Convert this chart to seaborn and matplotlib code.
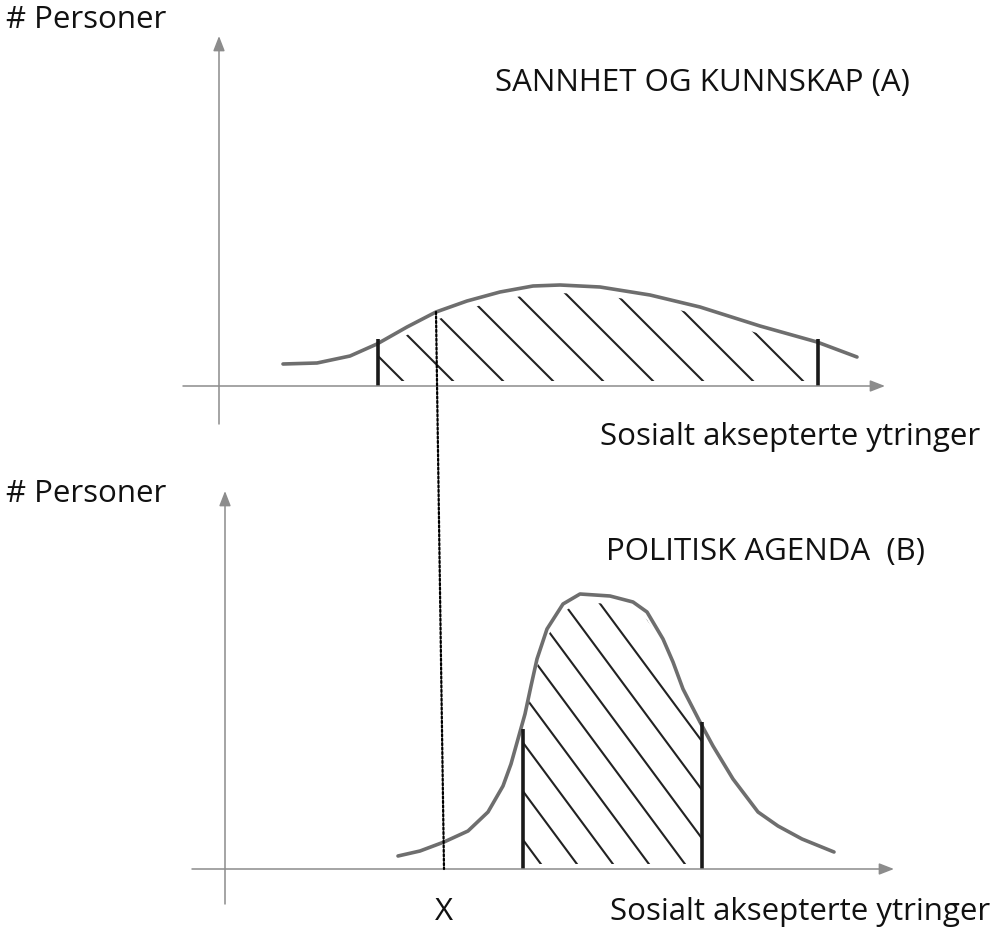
import numpy as np
import matplotlib
matplotlib.use("Agg")
import matplotlib.pyplot as plt
from matplotlib.patches import ConnectionPatch
import seaborn as sns

# --- data (pixel units, relative to each panel's axis origin) ---

# panel A: "Sannhet og kunnskap" - wide, flat curve
a_x = [64, 98, 131, 158, 188, 217, 248, 281, 314, 341, 381, 431, 481, 541, 598, 638]
a_y = [22, 23, 30, 42, 59, 74, 85, 94, 100, 101, 99, 91, 79, 60, 44, 29]
a_marks = [159, 599]       # accepted range limits
a_mark_top = [47, 47]

# panel B: "Politisk agenda" - narrow, tall curve
b_x = [173, 195, 219, 243, 263, 278, 286, 293, 300, 306, 312, 322, 338, 355, 385,
       408, 422, 438, 448, 458, 475, 488, 508, 533, 553, 577, 609]
b_y = [13, 18, 27, 38, 57, 83, 105, 130, 155, 183, 210, 240, 265, 275, 273,
       267, 257, 230, 207, 180, 147, 123, 90, 57, 43, 30, 17]
b_marks = [298, 477]
b_mark_top = [140, 147]

# statement X: where the dotted line meets curve A and axis B
x_top = (217, 74)
x_bot = (219, 0)

W, H = 1006, 928
sns.set_style("white")
plt.rcParams["font.family"] = ["Open Sans", "DejaVu Sans"]

fig = plt.figure(figsize=(W / 100, H / 100), dpi=100)


def panel(box, origin):
    # box = left, top, right, bottom in pixels; origin = axis crossing in pixels
    x0, y0, x1, y1 = box
    ox, oy = origin
    ax = fig.add_axes([x0 / W, 1 - y1 / H, (x1 - x0) / W, (y1 - y0) / H])
    ax.set_xlim(x0 - ox, x1 - ox)
    ax.set_ylim(oy - y1, oy - y0)
    ax.axis("off")
    return ax


def arrows(ax, xr, yr):
    kw = dict(arrowstyle="-|>,head_length=0.9,head_width=0.35", color="#8c8c8c",
              lw=1.1, shrinkA=0, shrinkB=0)
    ax.annotate("", xy=(xr[1], 0), xytext=(xr[0], 0), arrowprops=kw)
    ax.annotate("", xy=(0, yr[1]), xytext=(0, yr[0]), arrowprops=kw)


def hatch(ax, xs, ys, lo, hi, slope, step):
    xf = np.linspace(lo, hi, 200)
    yf = np.interp(xf, xs, ys)
    clip = ax.fill_between(xf, 5, yf - 8, color="none", lw=0)
    path = clip.get_paths()[0]
    top = max(ys) + 20
    for c in np.arange(lo + step * 0.6, hi + top / slope, step):
        line, = ax.plot([c - top / slope, c], [top, 0], color="#222222", lw=1.5)
        line.set_clip_path(path, ax.transData)


def draw(ax, xs, ys, marks, mark_top, slope, step, xr, yr):
    arrows(ax, xr, yr)
    hatch(ax, xs, ys, marks[0], marks[1], slope, step)
    sns.lineplot(x=xs, y=ys, sort=False, color="#6e6e6e", lw=2.6, ax=ax)
    ax.vlines(marks, 0, mark_top, color="#1a1a1a", lw=2.6)


top = panel((150, 25, 960, 450), (219, 387))
bot = panel((150, 480, 960, 928), (225, 870))

draw(top, a_x, a_y, a_marks, a_mark_top, 1.0, 50, (-36, 666), (-38, 350))
draw(bot, b_x, b_y, b_marks, b_mark_top, 1.35, 36, (-33, 669), (-35, 378))

con = ConnectionPatch(xyA=x_top, coordsA=top.transData, xyB=x_bot, coordsB=bot.transData,
                      ls=(0, (1, 1)), color="black", lw=1.6)
fig.add_artist(con)


def label(px, py, s, ha="left", size=22.5):
    fig.text(px / W, 1 - py / H, s, ha=ha, va="center", fontsize=size, color="#111111")


label(6, 20, "# Personer")
label(495, 83, "SANNHET OG KUNNSKAP (A)")
label(600, 437, "Sosialt aksepterte ytringer")
label(6, 494, "# Personer")
label(606, 552, "POLITISK AGENDA  (B)")
label(444, 912, "X", ha="center")
label(610, 912, "Sosialt aksepterte ytringer")

fig.savefig("out.png", dpi=100)
